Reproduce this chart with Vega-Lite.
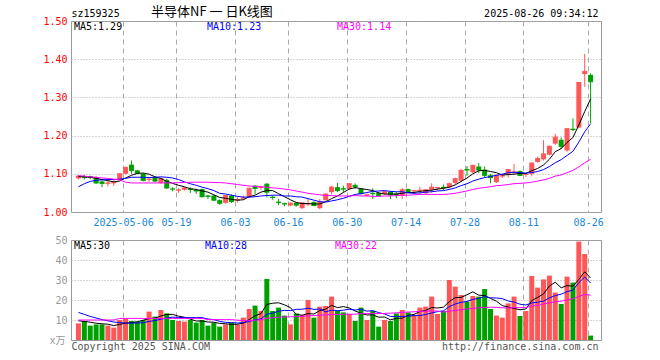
{
"$schema": "https://vega.github.io/schema/vega-lite/v6.json",
"background": "white",
"padding": {"left": 42, "top": 5, "right": 4, "bottom": 4},
"bounds": "flush",
"spacing": 28,
"resolve": {"scale": {"color": "independent"}},
"config": {
  "view": {"stroke": "#999999", "strokeWidth": 1},
  "font": "DejaVu Sans Mono",
  "axis": {"labelFont": "DejaVu Sans Mono", "labelFontSize": 10, "ticks": false, "tickSize": 0, "domain": false, "titleFont": "DejaVu Sans Mono", "titleFontSize": 10, "titleFontWeight": "normal", "gridColor": "#aaaaaa", "gridWidth": 1, "gridOpacity": 1},
  "legend": {"title": null, "orient": "none", "direction": "horizontal", "symbolSize": 0, "symbolOpacity": 0, "symbolStrokeWidth": 0, "labelOffset": 0, "padding": 0, "labelFont": "DejaVu Sans Mono", "labelFontSize": 10}
},
"datasets": {"k": [
{"i":0,"d":"2025-04-21","o":1.088,"h":1.097,"l":1.085,"c":1.094,"v":8.3,"m5":1.093,"m10":1.066,"m30":1.095,"q5":9.6,"q10":13.8,"q30":10.0},
{"i":1,"d":"2025-04-22","o":1.093,"h":1.097,"l":1.085,"c":1.090,"v":9.5,"m5":1.092,"m10":1.074,"m30":1.094,"q5":9.3,"q10":12.8,"q30":10.0},
{"i":2,"d":"2025-04-23","o":1.094,"h":1.095,"l":1.086,"c":1.091,"v":7.2,"m5":1.091,"m10":1.080,"m30":1.092,"q5":8.9,"q10":11.8,"q30":10.0},
{"i":3,"d":"2025-04-24","o":1.091,"h":1.093,"l":1.074,"c":1.076,"v":7.8,"m5":1.088,"m10":1.083,"m30":1.091,"q5":8.4,"q10":11.0,"q30":10.0},
{"i":4,"d":"2025-04-25","o":1.080,"h":1.082,"l":1.065,"c":1.075,"v":7.8,"m5":1.085,"m10":1.084,"m30":1.089,"q5":8.1,"q10":10.2,"q30":10.0},
{"i":5,"d":"2025-04-28","o":1.074,"h":1.084,"l":1.067,"c":1.076,"v":7.2,"m5":1.082,"m10":1.085,"m30":1.088,"q5":7.9,"q10":9.6,"q30":10.0},
{"i":6,"d":"2025-04-29","o":1.075,"h":1.083,"l":1.068,"c":1.077,"v":6.2,"m5":1.079,"m10":1.085,"m30":1.086,"q5":7.2,"q10":9.0,"q30":10.0},
{"i":7,"d":"2025-04-30","o":1.084,"h":1.101,"l":1.083,"c":1.100,"v":10.0,"m5":1.081,"m10":1.086,"m30":1.084,"q5":7.8,"q10":8.7,"q30":10.8},
{"i":8,"d":"2025-05-06","o":1.100,"h":1.118,"l":1.099,"c":1.117,"v":10.8,"m5":1.089,"m10":1.088,"m30":1.078,"q5":8.4,"q10":8.5,"q30":10.8},
{"i":9,"d":"2025-05-07","o":1.124,"h":1.135,"l":1.100,"c":1.109,"v":9.5,"m5":1.096,"m10":1.091,"m30":1.076,"q5":8.7,"q10":8.4,"q30":10.8},
{"i":10,"d":"2025-05-08","o":1.109,"h":1.110,"l":1.101,"c":1.102,"v":9.2,"m5":1.101,"m10":1.091,"m30":1.076,"q5":9.1,"q10":8.5,"q30":10.8},
{"i":11,"d":"2025-05-09","o":1.100,"h":1.102,"l":1.080,"c":1.083,"v":10.0,"m5":1.102,"m10":1.091,"m30":1.076,"q5":9.9,"q10":8.6,"q30":10.8},
{"i":12,"d":"2025-05-12","o":1.084,"h":1.089,"l":1.078,"c":1.086,"v":14.2,"m5":1.099,"m10":1.090,"m30":1.076,"q5":10.7,"q10":9.3,"q30":10.8},
{"i":13,"d":"2025-05-13","o":1.091,"h":1.094,"l":1.078,"c":1.081,"v":11.7,"m5":1.092,"m10":1.091,"m30":1.076,"q5":10.9,"q10":9.7,"q30":10.8},
{"i":14,"d":"2025-05-14","o":1.076,"h":1.088,"l":1.074,"c":1.087,"v":15.0,"m5":1.088,"m10":1.092,"m30":1.076,"q5":12.0,"q10":10.4,"q30":10.8},
{"i":15,"d":"2025-05-15","o":1.084,"h":1.087,"l":1.060,"c":1.063,"v":13.3,"m5":1.080,"m10":1.091,"m30":1.076,"q5":12.8,"q10":11.0,"q30":10.8},
{"i":16,"d":"2025-05-16","o":1.061,"h":1.065,"l":1.054,"c":1.060,"v":10.0,"m5":1.075,"m10":1.089,"m30":1.076,"q5":12.8,"q10":11.4,"q30":10.8},
{"i":17,"d":"2025-05-19","o":1.056,"h":1.062,"l":1.050,"c":1.058,"v":9.5,"m5":1.070,"m10":1.085,"m30":1.077,"q5":11.9,"q10":11.3,"q30":10.8},
{"i":18,"d":"2025-05-20","o":1.058,"h":1.065,"l":1.056,"c":1.063,"v":9.2,"m5":1.066,"m10":1.079,"m30":1.077,"q5":11.4,"q10":11.2,"q30":10.8},
{"i":19,"d":"2025-05-21","o":1.061,"h":1.065,"l":1.050,"c":1.059,"v":10.0,"m5":1.061,"m10":1.074,"m30":1.078,"q5":10.4,"q10":11.2,"q30":10.8},
{"i":20,"d":"2025-05-22","o":1.058,"h":1.061,"l":1.047,"c":1.055,"v":8.7,"m5":1.059,"m10":1.070,"m30":1.078,"q5":9.5,"q10":11.2,"q30":10.8},
{"i":21,"d":"2025-05-23","o":1.060,"h":1.061,"l":1.038,"c":1.040,"v":10.0,"m5":1.055,"m10":1.065,"m30":1.078,"q5":9.5,"q10":11.2,"q30":10.8},
{"i":22,"d":"2025-05-26","o":1.043,"h":1.045,"l":1.034,"c":1.041,"v":7.2,"m5":1.052,"m10":1.061,"m30":1.078,"q5":9.0,"q10":10.5,"q30":10.2},
{"i":23,"d":"2025-05-27","o":1.043,"h":1.045,"l":1.029,"c":1.031,"v":8.7,"m5":1.045,"m10":1.056,"m30":1.077,"q5":8.9,"q10":10.2,"q30":10.2},
{"i":24,"d":"2025-05-28","o":1.031,"h":1.033,"l":1.019,"c":1.023,"v":6.7,"m5":1.038,"m10":1.049,"m30":1.077,"q5":8.3,"q10":9.3,"q30":10.2},
{"i":25,"d":"2025-05-29","o":1.024,"h":1.044,"l":1.022,"c":1.043,"v":7.8,"m5":1.036,"m10":1.047,"m30":1.076,"q5":8.1,"q10":8.8,"q30":10.2},
{"i":26,"d":"2025-05-30","o":1.043,"h":1.046,"l":1.024,"c":1.027,"v":8.7,"m5":1.033,"m10":1.044,"m30":1.074,"q5":7.8,"q10":8.7,"q30":10.2},
{"i":27,"d":"2025-06-03","o":1.030,"h":1.041,"l":1.025,"c":1.032,"v":7.8,"m5":1.031,"m10":1.041,"m30":1.072,"q5":7.9,"q10":8.5,"q30":9.9},
{"i":28,"d":"2025-06-04","o":1.035,"h":1.043,"l":1.032,"c":1.037,"v":11.2,"m5":1.032,"m10":1.039,"m30":1.070,"q5":8.4,"q10":8.7,"q30":9.7},
{"i":29,"d":"2025-06-05","o":1.039,"h":1.064,"l":1.037,"c":1.062,"v":15.5,"m5":1.040,"m10":1.039,"m30":1.068,"q5":10.2,"q10":9.2,"q30":9.6},
{"i":30,"d":"2025-06-06","o":1.069,"h":1.070,"l":1.047,"c":1.062,"v":17.2,"m5":1.044,"m10":1.040,"m30":1.067,"q5":12.1,"q10":10.1,"q30":9.9},
{"i":31,"d":"2025-06-09","o":1.063,"h":1.069,"l":1.058,"c":1.065,"v":14.5,"m5":1.052,"m10":1.042,"m30":1.066,"q5":13.2,"q10":10.5,"q30":10.1},
{"i":32,"d":"2025-06-10","o":1.074,"h":1.076,"l":1.038,"c":1.052,"v":30.5,"m5":1.056,"m10":1.043,"m30":1.065,"q5":17.8,"q10":12.9,"q30":10.9},
{"i":33,"d":"2025-06-11","o":1.040,"h":1.043,"l":1.032,"c":1.038,"v":14.5,"m5":1.056,"m10":1.044,"m30":1.063,"q5":18.4,"q10":13.4,"q30":11.1},
{"i":34,"d":"2025-06-12","o":1.027,"h":1.034,"l":1.018,"c":1.025,"v":16.2,"m5":1.048,"m10":1.044,"m30":1.062,"q5":18.6,"q10":14.4,"q30":11.4},
{"i":35,"d":"2025-06-13","o":1.023,"h":1.024,"l":1.015,"c":1.021,"v":12.2,"m5":1.040,"m10":1.042,"m30":1.060,"q5":17.6,"q10":14.8,"q30":11.5},
{"i":36,"d":"2025-06-16","o":1.017,"h":1.025,"l":1.015,"c":1.023,"v":7.8,"m5":1.032,"m10":1.042,"m30":1.058,"q5":16.2,"q10":14.7,"q30":11.6},
{"i":37,"d":"2025-06-17","o":1.024,"h":1.026,"l":1.014,"c":1.018,"v":13.3,"m5":1.025,"m10":1.040,"m30":1.055,"q5":12.8,"q10":15.3,"q30":11.7},
{"i":38,"d":"2025-06-18","o":1.010,"h":1.025,"l":1.008,"c":1.024,"v":12.5,"m5":1.022,"m10":1.039,"m30":1.052,"q5":12.4,"q10":15.4,"q30":11.8},
{"i":39,"d":"2025-06-19","o":1.020,"h":1.034,"l":1.016,"c":1.022,"v":20.0,"m5":1.022,"m10":1.035,"m30":1.049,"q5":13.2,"q10":15.9,"q30":12.1},
{"i":40,"d":"2025-06-20","o":1.026,"h":1.028,"l":1.015,"c":1.017,"v":11.2,"m5":1.021,"m10":1.031,"m30":1.047,"q5":13.0,"q10":15.3,"q30":12.2},
{"i":41,"d":"2025-06-23","o":1.010,"h":1.034,"l":1.007,"c":1.026,"v":16.7,"m5":1.021,"m10":1.027,"m30":1.045,"q5":14.7,"q10":15.5,"q30":12.4},
{"i":42,"d":"2025-06-24","o":1.031,"h":1.048,"l":1.030,"c":1.047,"v":17.0,"m5":1.027,"m10":1.026,"m30":1.043,"q5":15.5,"q10":14.1,"q30":12.5},
{"i":43,"d":"2025-06-25","o":1.052,"h":1.069,"l":1.046,"c":1.065,"v":21.7,"m5":1.035,"m10":1.029,"m30":1.043,"q5":17.3,"q10":14.9,"q30":12.8},
{"i":44,"d":"2025-06-26","o":1.065,"h":1.076,"l":1.052,"c":1.056,"v":14.5,"m5":1.042,"m10":1.032,"m30":1.042,"q5":16.2,"q10":14.7,"q30":12.8},
{"i":45,"d":"2025-06-27","o":1.062,"h":1.069,"l":1.052,"c":1.060,"v":13.8,"m5":1.051,"m10":1.036,"m30":1.042,"q5":16.7,"q10":14.9,"q30":12.8},
{"i":46,"d":"2025-06-30","o":1.060,"h":1.075,"l":1.058,"c":1.074,"v":13.0,"m5":1.060,"m10":1.041,"m30":1.042,"q5":16.0,"q10":15.4,"q30":12.9},
{"i":47,"d":"2025-07-01","o":1.071,"h":1.075,"l":1.060,"c":1.067,"v":9.5,"m5":1.064,"m10":1.046,"m30":1.043,"q5":14.5,"q10":15.0,"q30":12.9},
{"i":48,"d":"2025-07-02","o":1.061,"h":1.062,"l":1.046,"c":1.048,"v":16.2,"m5":1.061,"m10":1.048,"m30":1.042,"q5":13.4,"q10":15.4,"q30":13.2},
{"i":49,"d":"2025-07-03","o":1.043,"h":1.048,"l":1.041,"c":1.045,"v":10.0,"m5":1.059,"m10":1.051,"m30":1.042,"q5":12.5,"q10":14.4,"q30":13.2},
{"i":50,"d":"2025-07-04","o":1.050,"h":1.062,"l":1.034,"c":1.048,"v":14.5,"m5":1.056,"m10":1.054,"m30":1.041,"q5":12.6,"q10":14.7,"q30":13.3},
{"i":51,"d":"2025-07-07","o":1.050,"h":1.052,"l":1.041,"c":1.043,"v":6.7,"m5":1.050,"m10":1.055,"m30":1.041,"q5":11.4,"q10":13.7,"q30":13.2},
{"i":52,"d":"2025-07-08","o":1.047,"h":1.055,"l":1.045,"c":1.053,"v":10.0,"m5":1.047,"m10":1.056,"m30":1.042,"q5":11.5,"q10":13.0,"q30":13.3},
{"i":53,"d":"2025-07-09","o":1.053,"h":1.055,"l":1.034,"c":1.045,"v":9.5,"m5":1.047,"m10":1.054,"m30":1.042,"q5":10.1,"q10":11.8,"q30":13.4},
{"i":54,"d":"2025-07-10","o":1.048,"h":1.052,"l":1.036,"c":1.046,"v":13.3,"m5":1.047,"m10":1.053,"m30":1.043,"q5":10.8,"q10":11.7,"q30":13.6},
{"i":55,"d":"2025-07-11","o":1.042,"h":1.063,"l":1.034,"c":1.058,"v":15.0,"m5":1.049,"m10":1.053,"m30":1.044,"q5":10.9,"q10":11.8,"q30":13.8},
{"i":56,"d":"2025-07-14","o":1.060,"h":1.061,"l":1.050,"c":1.051,"v":13.8,"m5":1.051,"m10":1.050,"m30":1.044,"q5":12.3,"q10":11.9,"q30":14.0},
{"i":57,"d":"2025-07-15","o":1.054,"h":1.058,"l":1.047,"c":1.056,"v":12.5,"m5":1.051,"m10":1.049,"m30":1.045,"q5":12.8,"q10":12.2,"q30":14.1},
{"i":58,"d":"2025-07-16","o":1.055,"h":1.066,"l":1.047,"c":1.057,"v":16.2,"m5":1.054,"m10":1.050,"m30":1.046,"q5":14.2,"q10":12.2,"q30":14.3},
{"i":59,"d":"2025-07-17","o":1.049,"h":1.060,"l":1.047,"c":1.058,"v":16.7,"m5":1.056,"m10":1.052,"m30":1.046,"q5":14.8,"q10":12.8,"q30":14.4},
{"i":60,"d":"2025-07-18","o":1.058,"h":1.075,"l":1.051,"c":1.065,"v":21.7,"m5":1.057,"m10":1.053,"m30":1.046,"q5":16.2,"q10":13.5,"q30":14.5},
{"i":61,"d":"2025-07-21","o":1.062,"h":1.065,"l":1.056,"c":1.064,"v":13.0,"m5":1.060,"m10":1.055,"m30":1.046,"q5":16.0,"q10":14.2,"q30":14.5},
{"i":62,"d":"2025-07-22","o":1.066,"h":1.072,"l":1.056,"c":1.064,"v":14.5,"m5":1.062,"m10":1.056,"m30":1.046,"q5":16.4,"q10":14.6,"q30":13.9},
{"i":63,"d":"2025-07-23","o":1.065,"h":1.077,"l":1.062,"c":1.074,"v":30.0,"m5":1.065,"m10":1.059,"m30":1.047,"q5":19.2,"q10":16.7,"q30":14.4},
{"i":64,"d":"2025-07-24","o":1.076,"h":1.090,"l":1.072,"c":1.087,"v":26.7,"m5":1.071,"m10":1.063,"m30":1.049,"q5":21.2,"q10":18.0,"q30":14.8},
{"i":65,"d":"2025-07-25","o":1.082,"h":1.113,"l":1.078,"c":1.109,"v":22.5,"m5":1.080,"m10":1.069,"m30":1.052,"q5":21.3,"q10":18.8,"q30":15.1},
{"i":66,"d":"2025-07-28","o":1.112,"h":1.120,"l":1.095,"c":1.110,"v":19.2,"m5":1.089,"m10":1.074,"m30":1.055,"q5":22.6,"q10":19.3,"q30":15.5},
{"i":67,"d":"2025-07-29","o":1.104,"h":1.124,"l":1.102,"c":1.122,"v":22.0,"m5":1.100,"m10":1.081,"m30":1.059,"q5":24.1,"q10":20.3,"q30":15.8},
{"i":68,"d":"2025-07-30","o":1.119,"h":1.128,"l":1.102,"c":1.110,"v":21.7,"m5":1.108,"m10":1.086,"m30":1.062,"q5":22.4,"q10":20.8,"q30":16.1},
{"i":69,"d":"2025-07-31","o":1.111,"h":1.119,"l":1.091,"c":1.096,"v":25.5,"m5":1.109,"m10":1.090,"m30":1.064,"q5":22.2,"q10":21.7,"q30":16.3},
{"i":70,"d":"2025-08-01","o":1.096,"h":1.100,"l":1.075,"c":1.090,"v":15.5,"m5":1.106,"m10":1.093,"m30":1.066,"q5":20.8,"q10":21.1,"q30":16.4},
{"i":71,"d":"2025-08-04","o":1.078,"h":1.098,"l":1.076,"c":1.096,"v":12.2,"m5":1.103,"m10":1.096,"m30":1.069,"q5":19.4,"q10":21.0,"q30":16.3},
{"i":72,"d":"2025-08-05","o":1.093,"h":1.100,"l":1.089,"c":1.095,"v":11.2,"m5":1.097,"m10":1.099,"m30":1.070,"q5":17.2,"q10":20.7,"q30":16.1},
{"i":73,"d":"2025-08-06","o":1.100,"h":1.112,"l":1.090,"c":1.111,"v":18.3,"m5":1.098,"m10":1.103,"m30":1.072,"q5":16.5,"q10":19.5,"q30":16.0},
{"i":74,"d":"2025-08-07","o":1.103,"h":1.126,"l":1.098,"c":1.105,"v":21.7,"m5":1.099,"m10":1.104,"m30":1.074,"q5":15.8,"q10":19.0,"q30":16.2},
{"i":75,"d":"2025-08-08","o":1.107,"h":1.109,"l":1.094,"c":1.096,"v":12.0,"m5":1.101,"m10":1.103,"m30":1.075,"q5":15.1,"q10":17.9,"q30":16.2},
{"i":76,"d":"2025-08-11","o":1.097,"h":1.102,"l":1.092,"c":1.099,"v":14.5,"m5":1.101,"m10":1.102,"m30":1.076,"q5":15.5,"q10":17.5,"q30":16.2},
{"i":77,"d":"2025-08-12","o":1.100,"h":1.130,"l":1.093,"c":1.128,"v":32.0,"m5":1.108,"m10":1.103,"m30":1.078,"q5":19.7,"q10":18.5,"q30":17.0},
{"i":78,"d":"2025-08-13","o":1.131,"h":1.145,"l":1.129,"c":1.140,"v":26.2,"m5":1.114,"m10":1.106,"m30":1.081,"q5":21.3,"q10":18.9,"q30":17.3},
{"i":79,"d":"2025-08-14","o":1.138,"h":1.188,"l":1.135,"c":1.152,"v":30.3,"m5":1.123,"m10":1.111,"m30":1.084,"q5":23.0,"q10":19.4,"q30":18.0},
{"i":80,"d":"2025-08-15","o":1.150,"h":1.174,"l":1.148,"c":1.172,"v":32.2,"m5":1.138,"m10":1.119,"m30":1.088,"q5":27.0,"q10":21.1,"q30":18.6},
{"i":81,"d":"2025-08-18","o":1.179,"h":1.205,"l":1.176,"c":1.196,"v":23.7,"m5":1.158,"m10":1.129,"m30":1.094,"q5":28.9,"q10":22.2,"q30":19.1},
{"i":82,"d":"2025-08-19","o":1.189,"h":1.195,"l":1.165,"c":1.172,"v":18.0,"m5":1.166,"m10":1.137,"m30":1.097,"q5":26.1,"q10":22.9,"q30":19.4},
{"i":83,"d":"2025-08-20","o":1.161,"h":1.220,"l":1.158,"c":1.218,"v":31.7,"m5":1.182,"m10":1.148,"m30":1.103,"q5":27.2,"q10":24.2,"q30":20.1},
{"i":84,"d":"2025-08-21","o":1.218,"h":1.245,"l":1.212,"c":1.216,"v":28.7,"m5":1.195,"m10":1.159,"m30":1.109,"q5":26.9,"q10":24.9,"q30":20.6},
{"i":85,"d":"2025-08-22","o":1.221,"h":1.340,"l":1.219,"c":1.339,"v":49.2,"m5":1.228,"m10":1.183,"m30":1.118,"q5":30.3,"q10":28.7,"q30":21.8},
{"i":86,"d":"2025-08-25","o":1.361,"h":1.414,"l":1.328,"c":1.368,"v":43.0,"m5":1.263,"m10":1.210,"m30":1.129,"q5":34.1,"q10":31.5,"q30":22.8},
{"i":87,"d":"2025-08-26","o":1.359,"h":1.363,"l":1.232,"c":1.341,"v":2.2,"m5":1.296,"m10":1.231,"m30":1.138,"q5":31.0,"q10":28.5,"q30":22.4}
]},
"vconcat": [
{
  "width": 530, "height": 191,
  "data": {"name": "k"},
  "title": {"text": "半导体NF 一 日K线图", "anchor": "start", "frame": "group", "dx": 80, "dy": 11, "offset": 0, "font": "Noto Sans CJK SC", "fontSize": 13, "fontWeight": "normal", "color": "#000000"},
  "encoding": {
    "x": {"field": "i", "type": "quantitative",
      "scale": {"domain": [-0.4167, 87.9167], "nice": false, "zero": false},
      "axis": {"values": [7.5833, 16.5833, 26.5833, 35.5833, 45.5833, 55.5833, 65.5833, 75.5833, 86.5833],
        "labelExpr": "datum.value < 8 ? '2025-05-06' : datum.value < 17 ? '05-19' : datum.value < 27 ? '06-03' : datum.value < 36 ? '06-16' : datum.value < 46 ? '06-30' : datum.value < 56 ? '07-14' : datum.value < 66 ? '07-28' : datum.value < 76 ? '08-11' : '08-26'",
        "grid": true, "gridDash": [5, 4], "labelColor": "#1a88d8", "labelPadding": 5, "labelFlush": 12, "labelOverlap": false, "title": null}}
  },
  "layer": [
    {"mark": {"type": "rule", "strokeWidth": 1},
     "encoding": {
       "y": {"field": "l", "type": "quantitative", "scale": {"domain": [1.0, 1.5], "nice": false, "zero": false},
         "axis": {"orient": "left", "values": [1.0, 1.1, 1.2, 1.3, 1.4, 1.5], "format": ".2f", "labelColor": "#ff0000", "labelPadding": 4, "grid": true, "gridDash": [1, 2],
           "title": "sz159325", "titleAngle": 0, "titleX": 0, "titleY": -5, "titleAlign": "left", "titleBaseline": "alphabetic", "titleColor": "#000000"}},
       "y2": {"field": "h"},
       "color": {"condition": {"test": "datum.c >= datum.o", "value": "#ff5757"}, "value": "#00a000"}}},
    {"mark": {"type": "bar", "width": 5},
     "encoding": {
       "y": {"field": "o", "type": "quantitative", "axis": null},
       "y2": {"field": "c"},
       "color": {"condition": {"test": "datum.c >= datum.o", "value": "#ff5757"}, "value": "#00a000"}}},
    {"mark": {"type": "tick", "orient": "horizontal", "size": 5, "thickness": 1, "opacity": 1},
     "encoding": {
       "y": {"field": "c", "type": "quantitative",
         "axis": {"orient": "right", "labels": false, "grid": false, "title": "2025-08-26 09:34:12", "titleAngle": 0, "titleX": -3, "titleY": -5, "titleAlign": "right", "titleBaseline": "alphabetic", "titleColor": "#000000"}},
       "color": {"condition": {"test": "datum.c >= datum.o", "value": "#ff5757"}, "value": "#00a000"}}},
    {"mark": {"type": "line", "strokeWidth": 1, "clip": true},
     "encoding": {
       "y": {"field": "m5", "type": "quantitative", "axis": null},
       "color": {"datum": "MA5:1.29", "type": "nominal", "scale": {"range": ["#000000"]},
         "legend": {"legendX": -7, "legendY": 1, "labelColor": "#000000"}}}},
    {"mark": {"type": "line", "strokeWidth": 1, "clip": true},
     "encoding": {
       "y": {"field": "m10", "type": "quantitative", "axis": null},
       "color": {"datum": "MA10:1.23", "type": "nominal", "scale": {"range": ["#0000ff"]},
         "legend": {"legendX": 126, "legendY": 1, "labelColor": "#0000ff"}}}},
    {"mark": {"type": "line", "strokeWidth": 1, "clip": true},
     "encoding": {
       "y": {"field": "m30", "type": "quantitative", "axis": null},
       "color": {"datum": "MA30:1.14", "type": "nominal", "scale": {"range": ["#ff00ff"]},
         "legend": {"legendX": 256, "legendY": 1, "labelColor": "#ff00ff"}}}}
  ],
  "resolve": {"axis": {"y": "independent"}, "scale": {"color": "independent"}}
},
{
  "width": 530, "height": 100,
  "data": {"name": "k"},
  "encoding": {
    "x": {"field": "i", "type": "quantitative",
      "scale": {"domain": [-0.4167, 87.9167], "nice": false, "zero": false},
      "axis": {"values": [7.5833, 16.5833, 26.5833, 35.5833, 45.5833, 55.5833, 65.5833, 75.5833, 86.5833],
        "labels": false, "grid": true, "gridDash": [5, 4],
        "title": "Copyright 2025 SINA.COM", "titleX": 0, "titleY": 6, "titleAlign": "left", "titleBaseline": "middle", "titleColor": "#555555"}}
  },
  "layer": [
    {"mark": {"type": "bar", "width": 5},
     "encoding": {
       "y": {"field": "v", "type": "quantitative", "stack": null, "scale": {"domain": [0, 50], "nice": false},
         "axis": {"orient": "left", "values": [10, 20, 30, 40, 50], "labelColor": "#999999", "labelPadding": 4, "grid": true, "gridDash": [1, 2],
           "title": "x万", "titleFont": "DejaVu Sans Mono, Noto Sans CJK SC", "titleAngle": 0, "titleX": -6, "titleY": 100, "titleAlign": "right", "titleBaseline": "middle", "titleColor": "#999999"}},
       "color": {"condition": {"test": "datum.c >= datum.o", "value": "#ff5757"}, "value": "#00a000"}}},
    {"mark": {"type": "line", "strokeWidth": 1, "clip": true},
     "encoding": {
       "y": {"field": "q5", "type": "quantitative",
         "axis": {"orient": "right", "labels": false, "grid": false, "title": "http://finance.sina.com.cn", "titleAngle": 0, "titleX": -3, "titleY": 106, "titleAlign": "right", "titleBaseline": "middle", "titleColor": "#555555"}},
       "color": {"datum": "MA5:30", "type": "nominal", "scale": {"range": ["#000000"]},
         "legend": {"legendX": -7, "legendY": 1, "labelColor": "#000000"}}}},
    {"mark": {"type": "line", "strokeWidth": 1, "clip": true},
     "encoding": {
       "y": {"field": "q10", "type": "quantitative", "axis": null},
       "color": {"datum": "MA10:28", "type": "nominal", "scale": {"range": ["#0000ff"]},
         "legend": {"legendX": 124, "legendY": 1, "labelColor": "#0000ff"}}}},
    {"mark": {"type": "line", "strokeWidth": 1, "clip": true},
     "encoding": {
       "y": {"field": "q30", "type": "quantitative", "axis": null},
       "color": {"datum": "MA30:22", "type": "nominal", "scale": {"range": ["#ff00ff"]},
         "legend": {"legendX": 254, "legendY": 1, "labelColor": "#ff00ff"}}}}
  ],
  "resolve": {"axis": {"y": "independent"}, "scale": {"color": "independent"}}
}
]
}
